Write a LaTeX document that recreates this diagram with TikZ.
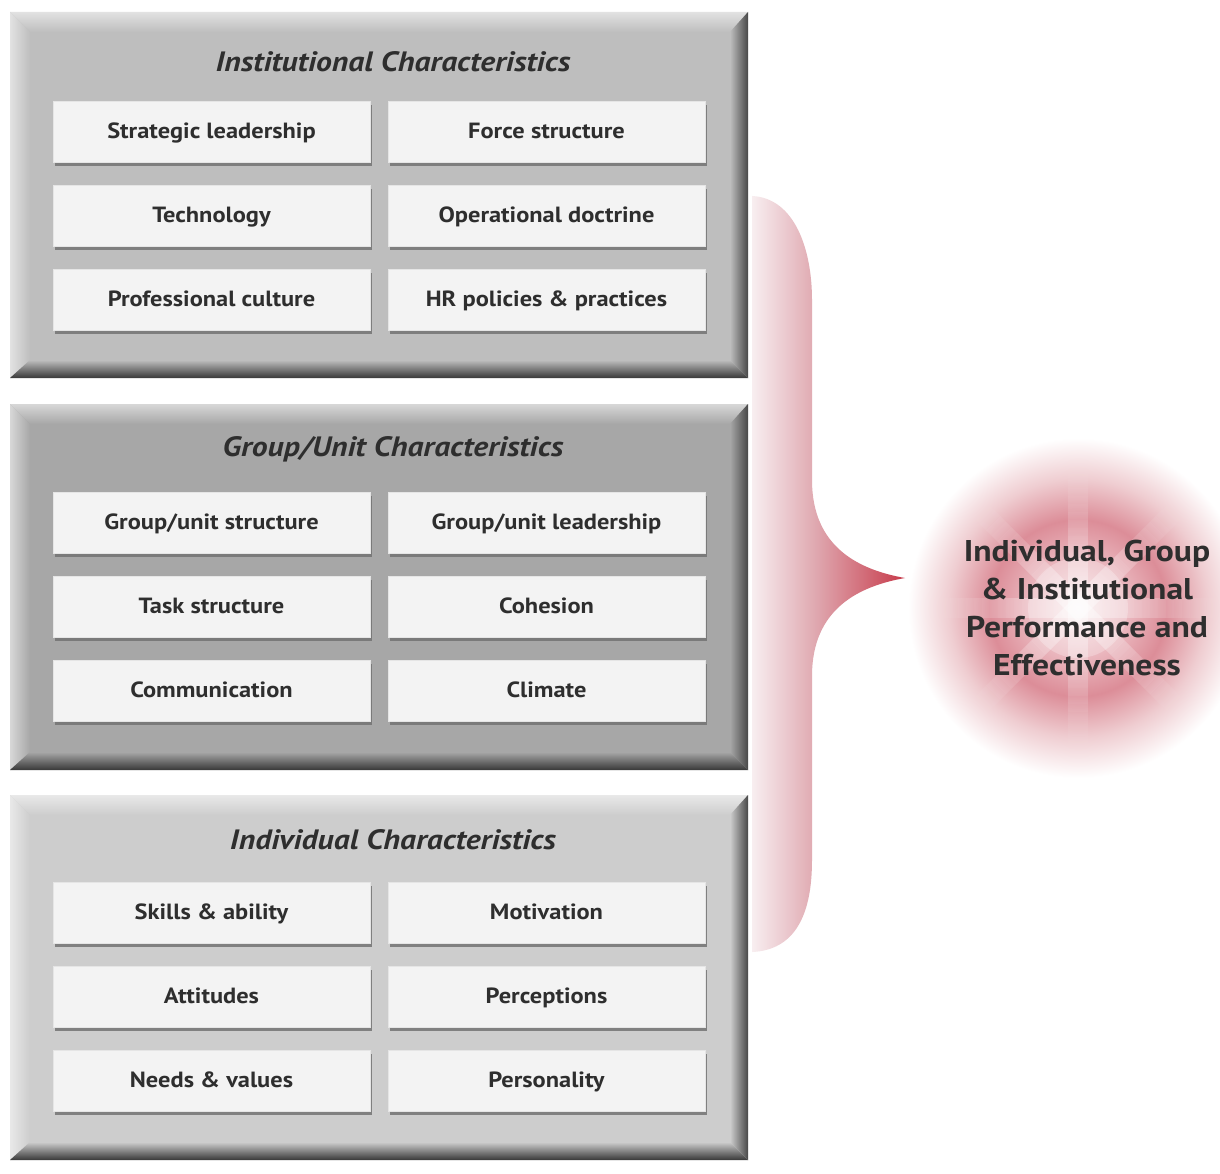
\documentclass[tikz,border=0pt]{standalone}
\usepackage{fontspec}
\setmainfont{PT Sans}
\newfontfamily\cellfont[FakeStretch=1.11]{PT Sans}
\newfontfamily\titlefont[FakeStretch=1.13]{PT Sans}
\newfontfamily\outcomefont[FakeStretch=1.12]{PT Sans}
\usetikzlibrary{shadows}

\definecolor{panelA}{HTML}{BEBEBE}
\definecolor{panelB}{HTML}{A7A7A7}
\definecolor{panelC}{HTML}{CDCDCD}
\definecolor{cellfill}{HTML}{F3F3F3}
\definecolor{ink}{HTML}{2E2E2E}
\definecolor{braceA}{HTML}{F8EEF0}
\definecolor{braceB}{HTML}{DFA7AF}
\definecolor{braceC}{HTML}{C73A4A}
\definecolor{glowA}{HTML}{F6E4E6}
\definecolor{glowB}{HTML}{EBB9C0}
\definecolor{glowC}{HTML}{DC8D98}
\definecolor{glowD}{HTML}{EFCDD1}

\pgfdeclarehorizontalshading{braceshade}{100bp}{color(0bp)=(braceA); color(25bp)=(braceA); color(46bp)=(braceB); color(75bp)=(braceC); color(100bp)=(braceC)}
\pgfdeclareradialshading{glowshade}{\pgfpointorigin}{color(0bp)=(glowA); color(7bp)=(glowB); color(13bp)=(glowC); color(19bp)=(glowD); color(25bp)=(white); color(50bp)=(white)}

% bevelled panel: #1 top, #2 bottom, #3 base colour
\newcommand\bevelpanel[3]{%
  \fill[#3] (10,#1) rectangle (748,#2);
  \shade[top color=#3!45!white, bottom color=#3] (10,#1) -- (748,#1) -- (730,#1+20) -- (30,#1+20) -- cycle;
  \shade[left color=#3!45!white, right color=#3] (10,#1) -- (30,#1+20) -- (30,#2-18) -- (10,#2) -- cycle;
  \shade[top color=#3, bottom color=black!78] (10,#2) -- (30,#2-18) -- (730,#2-18) -- (748,#2) -- cycle;
  \shade[left color=#3, right color=black!72] (748,#1) -- (748,#2) -- (730,#2-18) -- (730,#1+20) -- cycle;
}

\tikzset{
  cell/.style={minimum width=317pt, minimum height=61pt, inner sep=0pt,
    text height=2.5ex, text depth=0ex,
    fill=cellfill, draw=black!10, line width=0.8pt,
    drop shadow={shadow xshift=2pt, shadow yshift=-3.5pt, fill=black!55, opacity=0.85},
    text=ink, font=\cellfont\bfseries\fontsize{22}{26}\selectfont},
  paneltitle/.style={text=ink, font=\titlefont\bfseries\itshape\fontsize{28}{32}\selectfont},
  outcometext/.style={text=ink, align=center, font=\outcomefont\bfseries\fontsize{30}{38}\selectfont}
}

\begin{document}
\begin{tikzpicture}[x=1pt, y=-1pt]
\useasboundingbox[fill=white] (0,0) rectangle (1220,1174);

% three stacked panels
\bevelpanel{12}{378}{panelA}
\bevelpanel{404}{770}{panelB}
\bevelpanel{795}{1160}{panelC}

% institutional level
\node[paneltitle] (t1) at (393,62) {Institutional Characteristics};
\node[cell] (c11) at (211.5,132) {Strategic leadership};
\node[cell] (c12) at (546.5,132) {Force structure};
\node[cell] (c21) at (211.5,216) {Technology};
\node[cell] (c22) at (546.5,216) {Operational doctrine};
\node[cell] (c31) at (211.5,300) {Professional culture};
\node[cell] (c32) at (546.5,300) {HR policies \& practices};

% group / unit level
\node[paneltitle] (t2) at (393,449) {Group/Unit Characteristics};
\node[cell] (g11) at (211.5,523) {Group/unit structure};
\node[cell] (g12) at (546.5,523) {Group/unit leadership};
\node[cell] (g21) at (211.5,607) {Task structure};
\node[cell] (g22) at (546.5,607) {Cohesion};
\node[cell] (g31) at (211.5,691) {Communication};
\node[cell] (g32) at (546.5,691) {Climate};

% individual level
\node[paneltitle] (t3) at (393,840) {Individual Characteristics};
\node[cell] (i11) at (211.5,913) {Skills \& ability};
\node[cell] (i12) at (546.5,913) {Motivation};
\node[cell] (i21) at (211.5,997) {Attitudes};
\node[cell] (i22) at (546.5,997) {Perceptions};
\node[cell] (i31) at (211.5,1081) {Needs \& values};
\node[cell] (i32) at (546.5,1081) {Personality};

% brace gathering the three levels
\shade[shading=braceshade]
  (752,196) .. controls (795,198) and (812,250) .. (812,300)
  -- (812,480) .. controls (812,548) and (860,570) .. (905,578)
  .. controls (860,586) and (812,608) .. (812,676)
  -- (812,860) .. controls (812,915) and (795,950) .. (752,952)
  -- cycle;

% outcome glow with soft light rays fading outwards
\coordinate (glowc) at (1078,608);
\shade[shading=glowshade] (glowc) circle (170);
\begin{scope}[shift={(glowc)}, line cap=butt]
  \foreach \a in {0,45,...,315}
    \foreach \r in {0,8,...,128} {
      \pgfmathsetmacro\op{0.42*(1-\r/136)}
      \draw[white, opacity=\op, line width=20pt] (\a:\r) -- (\a:\r+8);
    }
  \fill[white, opacity=0.25] (0,0) circle (50);
\end{scope}
\node[outcometext] (outcome) at (1087,608)
  {Individual, Group\\\& Institutional\\Performance and\\Effectiveness};
\end{tikzpicture}
\end{document}
